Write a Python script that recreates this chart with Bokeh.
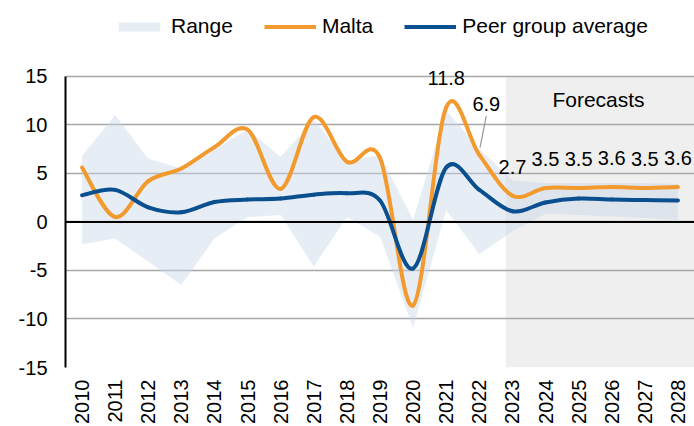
import math
from bokeh.plotting import figure
from bokeh.layouts import column
from bokeh.models import (ColumnDataSource, Range1d, FixedTicker, Span, BoxAnnotation,
                          Legend, LegendItem)
from bokeh.core.properties import value
from bokeh.embed import file_html
from bokeh.resources import INLINE

years = list(range(2010, 2029))
malta = [5.6, 0.5, 4.2, 5.5, 7.7, 9.5, 3.4, 10.8, 6.2, 6.6, -8.6, 11.8, 6.9, 2.7, 3.5, 3.5, 3.6, 3.5, 3.6]
peer = [2.75, 3.3, 1.5, 1.0, 2.05, 2.3, 2.4, 2.8, 2.95, 2.2, -4.8, 5.6, 3.3, 1.1, 2.0, 2.4, 2.3, 2.25, 2.2]
range_hi = [6.8, 11.0, 6.5, 5.5, 7.5, 9.5, 6.7, 10.5, 6.3, 6.9, 0.2, 11.5, 7.5, 4.3, 4.0, 4.0, 4.0, 4.0, 3.9]
range_lo = [-2.3, -1.7, -4.1, -6.5, -1.7, 0.5, 0.7, -4.6, 0.5, -1.5, -10.9, 1.2, -3.3, -1.0, 0.85, 0.7, 0.55, 0.4, 0.2]
label_years = [2021, 2023, 2024, 2025, 2026, 2027, 2028]
label_vals = [11.8, 2.7, 3.5, 3.5, 3.6, 3.5, 3.6]
leader_year = 2022
leader_val = 6.9
forecast_start = 2022.8
y_ticks = [-15, -10, -5, 0, 5, 10, 15]

ORANGE = "#f29a2e"
BLUE = "#0a4f8f"
BAND = "#c9d6e8"
FONT = "Liberation Sans"
W = 694
LEG_H = 48


def bezier_source(xs, ys):
    n = len(xs)
    d = dict(x0=[], y0=[], x1=[], y1=[], cx0=[], cy0=[], cx1=[], cy1=[])
    for i in range(n - 1):
        im1 = max(i - 1, 0)
        ip2 = min(i + 2, n - 1)
        d["x0"].append(xs[i]); d["y0"].append(ys[i])
        d["x1"].append(xs[i + 1]); d["y1"].append(ys[i + 1])
        d["cx0"].append(xs[i] + (xs[i + 1] - xs[im1]) / 6)
        d["cy0"].append(ys[i] + (ys[i + 1] - ys[im1]) / 6)
        d["cx1"].append(xs[i + 1] - (xs[ip2] - xs[i]) / 6)
        d["cy1"].append(ys[i + 1] - (ys[ip2] - ys[i]) / 6)
    return ColumnDataSource(d)


# ---------- legend strip (its frame is aligned with the main frame) ----------
lf = figure(width=W, height=LEG_H, output_backend="svg", toolbar_location=None,
            x_range=Range1d(0, 1), y_range=Range1d(0, 1),
            min_border_left=0, min_border_right=0, min_border_top=0, min_border_bottom=0)
lf.outline_line_color = None
lf.axis.visible = False
lf.grid.visible = False
# proxy renderers kept outside the visible range; only their legend swatches show
r_band = lf.varea(x=[5, 6], y1=[5, 5], y2=[6, 6], fill_color=BAND, fill_alpha=0.45)
r_malta = lf.line(x=[5, 6], y=[5, 6], line_color=ORANGE, line_width=4)
r_peer = lf.line(x=[5, 6], y=[5, 6], line_color=BLUE, line_width=4)
legend = Legend(items=[LegendItem(label="Range", renderers=[r_band]),
                       LegendItem(label="Malta", renderers=[r_malta]),
                       LegendItem(label="Peer group average", renderers=[r_peer])],
                orientation="horizontal", location=(48, 10),
                glyph_width=52, glyph_height=11, label_standoff=6, spacing=31,
                padding=0, margin=0, border_line_color=None, background_fill_alpha=0,
                label_text_font=FONT, label_text_font_size="21px", label_text_color="black")
lf.add_layout(legend)

# ---------- main chart ----------
p = figure(width=W, height=426 - LEG_H, output_backend="svg", toolbar_location=None,
           x_range=Range1d(2009.5, 2028.5), y_range=Range1d(-15, 15.8),
           min_border_left=65, min_border_right=0, min_border_top=68 - LEG_H, min_border_bottom=59)
p.outline_line_color = None
p.background_fill_color = "white"

fc = BoxAnnotation(left=forecast_start, top=15, fill_color="#efefef", fill_alpha=1.0,
                   line_color=None, level="image")
p.add_layout(fc)

p.xaxis.ticker = FixedTicker(ticks=years)
p.xaxis.major_label_overrides = {y: str(y) for y in years}
p.xaxis.major_label_orientation = math.pi / 2
p.xaxis.axis_line_color = None
p.xaxis.major_tick_line_color = None
p.xaxis.minor_tick_line_color = None
p.xaxis.major_tick_out = 0
p.xaxis.major_label_standoff = 12
p.xaxis.major_label_text_font = FONT
p.xaxis.major_label_text_font_size = "20px"
p.xaxis.major_label_text_color = "black"

p.yaxis.ticker = FixedTicker(ticks=y_ticks)
p.yaxis.bounds = (-15, 15)
p.yaxis.major_label_overrides = {t: str(t) for t in y_ticks}
p.yaxis.axis_line_color = "black"
p.yaxis.axis_line_width = 2
p.yaxis.major_tick_line_color = None
p.yaxis.minor_tick_line_color = None
p.yaxis.major_tick_out = 0
p.yaxis.major_label_standoff = 18
p.yaxis.major_label_text_font = FONT
p.yaxis.major_label_text_font_size = "20px"
p.yaxis.major_label_text_color = "black"

p.xgrid.grid_line_color = None
p.ygrid.ticker = FixedTicker(ticks=y_ticks)
p.ygrid.grid_line_color = "#a6a6a6"
p.ygrid.grid_line_width = 1.5

p.varea(x=years, y1=range_lo, y2=range_hi, fill_color=BAND, fill_alpha=0.45)

zero = Span(location=0, dimension="width", line_color="black", line_width=2, level="glyph")
p.add_layout(zero)

p.bezier(x0="x0", y0="y0", x1="x1", y1="y1", cx0="cx0", cy0="cy0", cx1="cx1", cy1="cy1",
         source=bezier_source(years, malta), line_color=ORANGE, line_width=4, line_cap="round")
p.bezier(x0="x0", y0="y0", x1="x1", y1="y1", cx0="cx0", cy0="cy0", cx1="cx1", cy1="cy1",
         source=bezier_source(years, peer), line_color=BLUE, line_width=4, line_cap="round")

p.text(x=label_years, y=label_vals, text=[f"{v:.1f}" for v in label_vals],
       text_align="center", text_baseline="alphabetic", y_offset=-29,
       text_font=value(FONT), text_font_size="20px", text_color="black")
p.text(x=[leader_year], y=[leader_val], text=[f"{leader_val:.1f}"],
       text_align="center", text_baseline="alphabetic", x_offset=7, y_offset=-51,
       text_font=value(FONT), text_font_size="20px", text_color="black")
p.segment(x0=[leader_year + 0.02], y0=[leader_val + 0.75], x1=[leader_year + 0.21], y1=[leader_val + 4.0],
          line_color="#999999", line_width=1.2)

p.text(x=[2025.6], y=[12.6], text=["Forecasts"], text_align="center", text_baseline="middle",
       text_font=value(FONT), text_font_size="21px", text_color="black")

layout = column(lf, p, spacing=0)
open("out.html", "w").write(file_html(layout, INLINE))
